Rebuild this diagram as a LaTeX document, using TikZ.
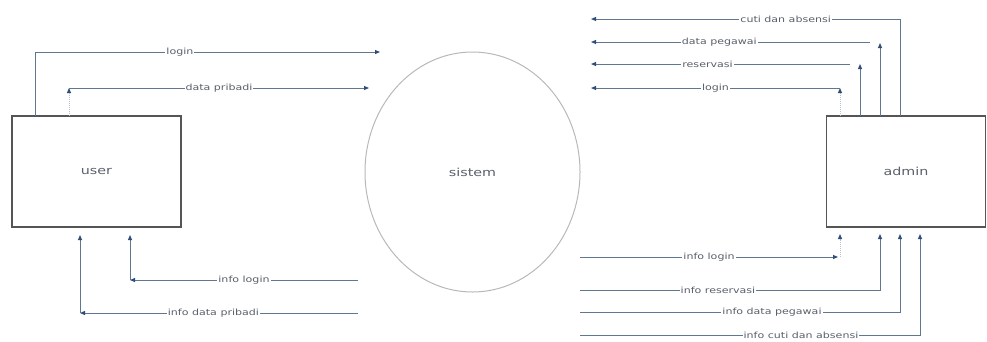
\documentclass[tikz,border=0pt]{standalone}
\usepackage{fontspec}
\usepackage{graphicx}
\setmainfont{DejaVu Sans}
\usetikzlibrary{arrows.meta,shapes.geometric}
\definecolor{linec}{HTML}{5F7890}
\definecolor{tipc}{HTML}{2F4F78}
\definecolor{boxc}{HTML}{555555}
\definecolor{txtc}{HTML}{5A5F6A}
\definecolor{ellc}{HTML}{B8B8B8}
\newcommand\widetxt[1]{\scalebox{1.3}[1]{#1}}
\begin{document}
\begin{tikzpicture}[x=1pt,y=-1pt,
  flow/.style={draw=linec, line width=1pt},
  arr/.style={flow, -{Triangle[length=5pt,width=4pt,color=tipc]}},
  faint/.style={draw=linec!45, line width=1pt, densely dotted, -{Triangle[length=5pt,width=4pt,color=tipc]}},
  lbl/.style={fill=white, inner sep=1pt, text=txtc, font=\fontsize{8.5}{9}\selectfont},
  box/.style={draw=boxc, line width=1.1pt, minimum height=111pt, text=txtc, font=\fontsize{11}{12}\selectfont}]
\useasboundingbox (0,0) rectangle (987,341);
\node[box, minimum width=169pt] (user) at (96.5,171.5) {\widetxt{user}};
\node[box, minimum width=159pt] (admin) at (906,171.5) {\widetxt{admin}};
\node[draw=ellc, line width=1pt, ellipse, inner sep=0pt, minimum width=215pt, minimum height=240pt, text=txtc, font=\fontsize{11}{12}\selectfont] (sys) at (472.5,172) {\widetxt{sistem}};

% ---- user top
\coordinate (u1) at (35,116);
\coordinate (u1c) at (35,52);
\coordinate (u1e) at (380,52);
\draw[arr] (u1) -- (u1c) -- node[lbl, pos=0.42] {\widetxt{login}} (u1e);
\coordinate (u2) at (69,116);
\coordinate (u2c) at (69,88);
\coordinate (u2e) at (369,88);
\draw[faint] (u2) -- (u2c);
\draw[arr] (u2c) -- node[lbl, pos=0.5] {\widetxt{data pribadi}} (u2e);

% ---- user bottom
\coordinate (u3s) at (358,280);
\coordinate (u3c) at (130,280);
\coordinate (u3e) at (130,235);
\draw[arr] (u3s) -- node[lbl, pos=0.5] {\widetxt{info login}} (u3c);
\draw[arr] (u3c) -- (u3e);
\coordinate (u4s) at (358,313);
\coordinate (u4c) at (80,313);
\coordinate (u4e) at (80,235);
\draw[arr] (u4s) -- node[lbl, pos=0.52] {\widetxt{info data pribadi}} (u4c);
\draw[arr] (u4c) -- (u4e);

% ---- admin top
\coordinate (a1) at (900,116);
\coordinate (a1c) at (900,19);
\coordinate (a1e) at (591,19);
\draw[arr] (a1) -- (a1c) -- node[lbl, pos=0.37] {\widetxt{cuti dan absensi}} (a1e);
\coordinate (a2) at (880,116);
\coordinate (a2c) at (880,43);
\coordinate (a2s) at (870,42);
\coordinate (a2e) at (591,42);
\draw[arr] (a2) -- (a2c);
\draw[arr] (a2s) -- node[lbl, pos=0.54] {\widetxt{data pegawai}} (a2e);
\coordinate (a3) at (860,116);
\coordinate (a3c) at (860,64);
\coordinate (a3s) at (850,64);
\coordinate (a3e) at (591,64);
\draw[arr] (a3) -- (a3c);
\draw[arr] (a3s) -- node[lbl, pos=0.55] {\widetxt{reservasi}} (a3e);
\coordinate (a4) at (840,116);
\coordinate (a4c) at (840,88);
\coordinate (a4e) at (591,88);
\draw[faint] (a4) -- (a4c);
\draw[arr] (a4c) -- node[lbl, pos=0.5] {\widetxt{login}} (a4e);

% ---- admin bottom
\coordinate (b1s) at (580,257);
\coordinate (b1e) at (838,257);
\coordinate (b1c) at (840,257);
\coordinate (b1t) at (840,234);
\draw[arr] (b1s) -- node[lbl, pos=0.5] {\widetxt{info login}} (b1e);
\draw[faint] (b1c) -- (b1t);
\coordinate (b2s) at (580,290);
\coordinate (b2c) at (880,290);
\coordinate (b2t) at (880,234);
\draw[arr] (b2s) -- node[lbl, pos=0.46] {\widetxt{info reservasi}} (b2c) -- (b2t);
\coordinate (b3s) at (580,312);
\coordinate (b3c) at (900,312);
\coordinate (b3t) at (900,234);
\draw[arr] (b3s) -- node[lbl, pos=0.6] {\widetxt{info data pegawai}} (b3c) -- (b3t);
\coordinate (b4s) at (580,335);
\coordinate (b4c) at (920,335);
\coordinate (b4t) at (920,234);
\draw[arr] (b4s) -- node[lbl, pos=0.65] {\widetxt{info cuti dan absensi}} (b4c) -- (b4t);
\end{tikzpicture}
\end{document}
